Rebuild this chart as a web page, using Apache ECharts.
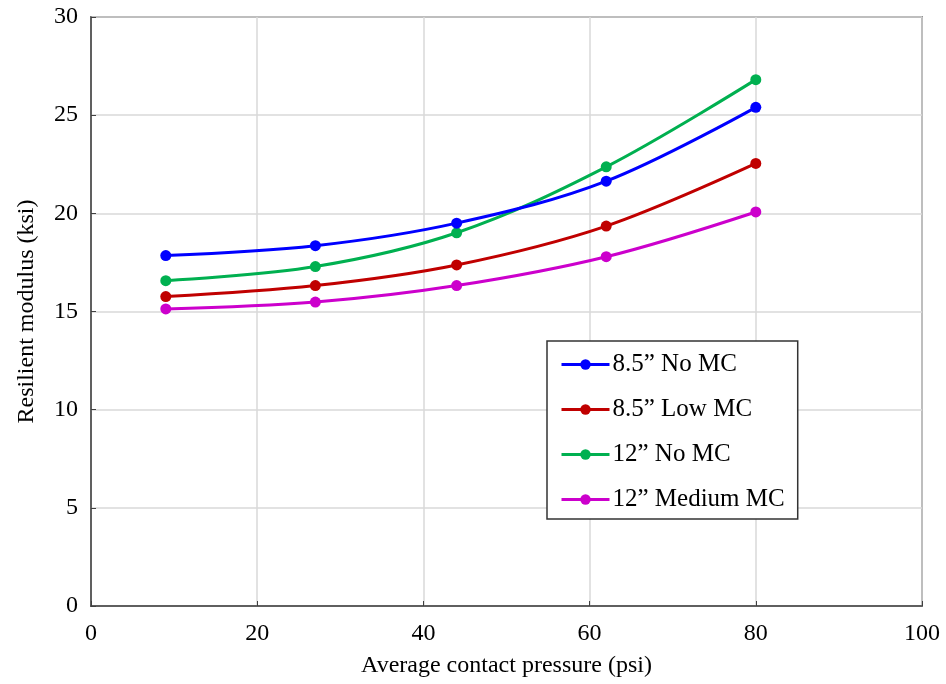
<!DOCTYPE html>
<html>
<head>
<meta charset="utf-8">
<script src="https://cdn.jsdelivr.net/npm/echarts@6/dist/echarts.min.js"></script>
<style>
html,body{margin:0;padding:0;background:#fff;}
#chart{width:946px;height:684px;}
</style>
</head>
<body>
<div id="chart"></div>
<script>
const pressure = [9, 27, 44, 62, 80];
const s85NoMC = [17.85, 18.35, 19.5, 21.64, 25.4];
const s85LowMC = [15.76, 16.32, 17.37, 19.35, 22.54];
const s12NoMC = [16.57, 17.29, 19.01, 22.37, 26.81];
const s12MedMC = [15.13, 15.48, 16.32, 17.79, 20.07];
const seriesNames = ['8.5\u201D No MC', '8.5\u201D Low MC', '12\u201D No MC', '12\u201D Medium MC'];
const seriesColors = ['#0000ff', '#c00000', '#00b050', '#cc00cc'];
const seriesValues = [s85NoMC, s85LowMC, s12NoMC, s12MedMC];
const xTicks = [0, 20, 40, 60, 80, 100];
const yTicks = [0, 5, 10, 15, 20, 25, 30];

const font = '"Liberation Serif", "Times New Roman", serif';
const chart = echarts.init(document.getElementById('chart'));
chart.setOption({
  animation: false,
  backgroundColor: '#fff',
  grid: {left: 91, right: 24, top: 17, bottom: 78, show: true, borderColor: '#404040', borderWidth: 1.5, backgroundColor: 'transparent'},
  legend: {
    orient: 'vertical', left: 547, top: 341,
    padding: [11, 13, 7, 13], itemGap: 20,
    itemWidth: 48, itemHeight: 13,
    backgroundColor: '#fff', borderColor: '#333', borderWidth: 1.5, borderRadius: 0,
    selectedMode: false,
    lineStyle: {width: 3},
    textStyle: {fontFamily: font, fontSize: 25, color: '#000', lineHeight: 24, padding: [0,0,0,-2]},
    data: seriesNames
  },
  xAxis: {
    type: 'value', min: xTicks[0], max: xTicks[xTicks.length-1], interval: 20,
    name: 'Average contact pressure (psi)', nameLocation: 'middle', nameGap: 48,
    nameTextStyle: {fontFamily: font, fontSize: 24, color: '#000'},
    axisLine: {show: true, lineStyle: {color: '#404040', width: 1.5}},
    axisTick: {show: true, inside: true, length: 5, lineStyle: {color: '#404040'}},
    axisLabel: {fontFamily: font, fontSize: 24, color: '#000', margin: 16},
    splitLine: {show: true, lineStyle: {color: '#d9d9d9', width: 1.5}}
  },
  yAxis: {
    type: 'value', min: yTicks[0], max: yTicks[yTicks.length-1], interval: 5,
    name: 'Resilient modulus (ksi)', nameLocation: 'middle', nameGap: 52,
    nameTextStyle: {fontFamily: font, fontSize: 24, color: '#000'},
    axisLine: {show: true, lineStyle: {color: '#404040', width: 1.5}},
    axisTick: {show: true, inside: true, length: 5, lineStyle: {color: '#404040'}},
    axisLabel: {fontFamily: font, fontSize: 24, color: '#000', margin: 13},
    splitLine: {show: true, lineStyle: {color: '#d9d9d9', width: 1.5}}
  },
  series: seriesNames.map((n, i) => ({
    name: n, type: 'line', smooth: 0.35,
    data: pressure.map((x, j) => [x, seriesValues[i][j]]),
    symbol: 'circle', symbolSize: 11,
    lineStyle: {color: seriesColors[i], width: 3},
    itemStyle: {color: seriesColors[i]},
    z: 10 - i
  }))
});
</script>
</body>
</html>
